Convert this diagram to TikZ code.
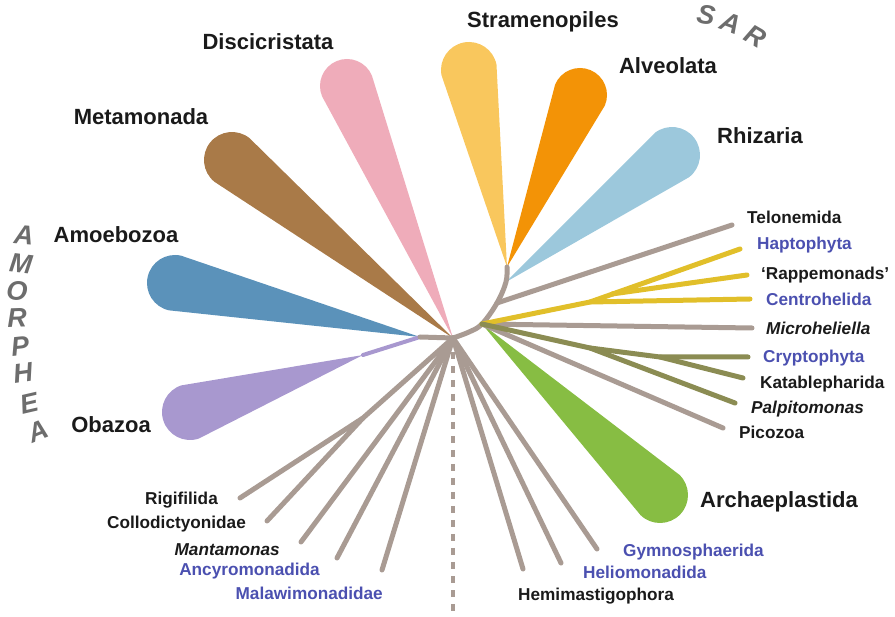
\documentclass[tikz,border=0pt]{standalone}
\usepackage{fontspec}
\setmainfont{Liberation Sans}
\usetikzlibrary{calc}
\definecolor{greyline}{HTML}{A99B93}
\definecolor{yellowline}{HTML}{E1BF2A}
\definecolor{oliveline}{HTML}{8B8C53}
\definecolor{cStram}{HTML}{F9C75D}
\definecolor{cAlve}{HTML}{F39306}
\definecolor{cRhiz}{HTML}{9CC8DC}
\definecolor{cDisc}{HTML}{EFACBA}
\definecolor{cMeta}{HTML}{A97A48}
\definecolor{cAmoe}{HTML}{5B92BA}
\definecolor{cObaz}{HTML}{A898CF}
\definecolor{cArch}{HTML}{87BD43}
\definecolor{txtblue}{HTML}{4B50B0}
\definecolor{txtblack}{HTML}{1A1A1A}
\definecolor{supergrey}{HTML}{6D6D6D}
\newcommand\tdrop[4]{%
  \fill[#1] let \p1=($(#3)-(#2)$), \n1={atan2(\y1,\x1)} in
    (#2) -- ($(#3)+(\n1+90:#4pt)$) arc[start angle=\n1+90, end angle=\n1-90, radius=#4pt] -- cycle;}
\begin{document}
\begin{tikzpicture}[x=1pt,y=-1pt,line cap=round,
  tree/.style={line width=5pt, draw=greyline},
  yel/.style={line width=5pt, draw=yellowline},
  oli/.style={line width=5pt, draw=oliveline},
  lblbig/.style={font=\fontsize{22}{24}\selectfont\bfseries, text=txtblack, inner sep=0pt, anchor=base},
  lblsmall/.style={font=\fontsize{17.2}{19}\selectfont\bfseries, text=txtblack, inner sep=0pt},
  lblital/.style={font=\fontsize{17.2}{19}\selectfont\bfseries\itshape, text=txtblack, inner sep=0pt},
  lblblue/.style={text=txtblue},
  superlbl/.style={font=\fontsize{27}{27}\selectfont\bfseries\itshape, text=supergrey, inner sep=0pt}]
\useasboundingbox (0,0) rectangle (895,617);
% tree points
\coordinate (R0) at (453,338);
\coordinate (A) at (420,337);
\coordinate (ob) at (363,355);
\coordinate (D) at (482,324);
\coordinate (T) at (497,303);
\coordinate (rz) at (506,282);
\coordinate (S) at (507,267);
% blob heads
\coordinate (hStram) at (469,70);
\coordinate (hAlve) at (580,95);
\coordinate (hRhiz) at (672,155);
\coordinate (hDisc) at (347,86);
\coordinate (hMeta) at (232,160);
\coordinate (hAmoe) at (175,283);
\coordinate (hObaz) at (190,412);
\coordinate (hArch) at (660,495);
% blobs
\tdrop{cMeta}{R0}{hMeta}{28}
\tdrop{cDisc}{R0}{hDisc}{27}
\tdrop{cAmoe}{A}{hAmoe}{28}
\draw[line width=4pt, cObaz] (A) -- (ob);
\tdrop{cObaz}{ob}{hObaz}{28}
\tdrop{cStram}{S}{hStram}{28}
\tdrop{cAlve}{S}{hAlve}{27}
\tdrop{cRhiz}{rz}{hRhiz}{28}
\tdrop{cArch}{D}{hArch}{28}
% dashed line
\coordinate (dtop) at (453,352);
\coordinate (dbot) at (453,617);
\draw[greyline, line width=4.5pt, line cap=butt, dash pattern=on 7pt off 7pt] (dtop) -- (dbot);
% grey backbone
\draw[tree] (A) -- (R0);
\draw[tree] plot[smooth, tension=0.6] coordinates {(R0) (469,332) (D) (T) (rz) (S)};
% right side
\coordinate (eTelo) at (732,225);
\coordinate (Y1) at (590,302);
\coordinate (Y2) at (612,294);
\coordinate (eHapto) at (740,249);
\coordinate (eRappe) at (747,275);
\coordinate (eCentro) at (750,299);
\coordinate (eMicro) at (752,328);
\coordinate (O1) at (590,348);
\coordinate (O2) at (660,357);
\coordinate (eCrypto) at (748,357);
\coordinate (eKata) at (743,378);
\coordinate (ePalpi) at (735,403);
\coordinate (ePico) at (723,428);
\draw[tree] (T) -- (eTelo);
\draw[tree] (D) -- (eMicro);
\draw[tree] (D) -- (ePico);
\draw[yel] (D) -- (Y1) -- (eCentro);
\draw[yel] (Y1) -- (eHapto);
\draw[yel] (Y2) -- (eRappe);
\draw[oli] (D) -- (O1) -- (O2) -- (eCrypto);
\draw[oli] (O2) -- (eKata);
\draw[oli] (O1) -- (ePalpi);
% lower fan
\coordinate (L1) at (363,418);
\coordinate (eRigi) at (240,498);
\coordinate (eColl) at (267,521);
\coordinate (eMant) at (301,542);
\coordinate (eAncy) at (337,558);
\coordinate (eMala) at (382,570);
\coordinate (eHemi) at (523,569);
\coordinate (eHelio) at (561,563);
\coordinate (eGymno) at (597,549);
\draw[tree] (R0) -- (L1) -- (eRigi);
\draw[tree] (L1) -- (eColl);
\draw[tree] (R0) -- (eMant);
\draw[tree] (R0) -- (eAncy);
\draw[tree] (R0) -- (eMala);
\draw[tree] (R0) -- (eHemi);
\draw[tree] (R0) -- (eHelio);
\draw[tree] (R0) -- (eGymno);
% big labels
\node[lblbig] (nStram) at (543,28) {Stramenopiles};
\node[lblbig] (nAlve) at (668,74) {Alveolata};
\node[lblbig] (nRhiz) at (760,144) {Rhizaria};
\node[lblbig] (nDisc) at (268,50) {Discicristata};
\node[lblbig] (nMeta) at (141,125) {Metamonada};
\node[lblbig] (nAmoe) at (116,243) {Amoebozoa};
\node[lblbig] (nObaz) at (111,433) {Obazoa};
\node[lblbig] (nArch) at (779,508) {Archaeplastida};
% small labels right
\node[lblsmall, anchor=base west] (nTelo) at (747,224) {Telonemida};
\node[lblsmall, lblblue, anchor=base west] (nHapto) at (757,250) {Haptophyta};
\node[lblsmall, anchor=base west] (nRappe) at (761,280) {‘Rappemonads’};
\node[lblsmall, lblblue, anchor=base west] (nCentro) at (766,306) {Centrohelida};
\node[lblital, anchor=base west] (nMicro) at (766,335) {Microheliella};
\node[lblsmall, lblblue, anchor=base west] (nCrypto) at (763,363) {Cryptophyta};
\node[lblsmall, anchor=base west] (nKata) at (760,389) {Katablepharida};
\node[lblital, anchor=base west] (nPalpi) at (751,414) {Palpitomonas};
\node[lblsmall, anchor=base west] (nPico) at (739,439) {Picozoa};
% small labels bottom
\node[lblsmall, lblblue, anchor=base west] (nGymno) at (623,557) {Gymnosphaerida};
\node[lblsmall, lblblue, anchor=base west] (nHelio) at (583,579) {Heliomonadida};
\node[lblsmall, anchor=base west] (nHemi) at (518,601) {Hemimastigophora};
\node[lblsmall, lblblue, anchor=base east] (nMala) at (383,599) {Malawimonadidae};
\node[lblsmall, lblblue, anchor=base east] (nAncy) at (320,576) {Ancyromonadida};
\node[lblital, anchor=base east] (nMant) at (280,555) {Mantamonas};
\node[lblsmall, anchor=base east] (nColl) at (246,529) {Collodictyonidae};
\node[lblsmall, anchor=base east] (nRigi) at (218,505) {Rigifilida};
% AMORPHEA
\node[superlbl, rotate=-5] (am1) at (24,235) {A};
\node[superlbl, rotate=-7] (am2) at (21,264) {M};
\node[superlbl, rotate=-4] (am3) at (17,291) {O};
\node[superlbl, rotate=2] (am4) at (17,318) {R};
\node[superlbl, rotate=6] (am5) at (20,346) {P};
\node[superlbl, rotate=8] (am6) at (23,373) {H};
\node[superlbl, rotate=13] (am7) at (29,403) {E};
\node[superlbl, rotate=22] (am8) at (38,431) {A};
% SAR
\node[superlbl, rotate=-10] (sar1) at (706,15) {S};
\node[superlbl, rotate=-20] (sar2) at (731,23) {A};
\node[superlbl, rotate=-30] (sar3) at (756,36) {R};
\end{tikzpicture}
\end{document}
